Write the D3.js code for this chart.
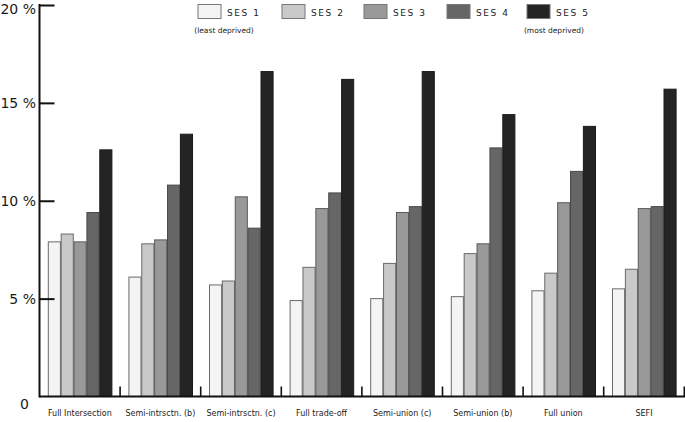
<!DOCTYPE html>
<html>
<head>
<meta charset="utf-8">
<script src="https://cdn.jsdelivr.net/npm/d3@7"></script>
<style>
  html, body { margin: 0; padding: 0; background: #fff; }
  svg { display: block; }
</style>
</head>
<body>
<svg id="chart" width="685" height="422"></svg>
<script>
const categories = ["Full Intersection", "Semi-intrsctn. (b)", "Semi-intrsctn. (c)", "Full trade-off",
  "Semi-union (c)", "Semi-union (b)", "Full union", "SEFI"];
const seriesNames = ["SES 1", "SES 2", "SES 3", "SES 4", "SES 5"];
const ses1 = [7.9, 6.1, 5.7, 4.9, 5.0, 5.1, 5.4, 5.5];
const ses2 = [8.3, 7.8, 5.9, 6.6, 6.8, 7.3, 6.3, 6.5];
const ses3 = [7.9, 8.0, 10.2, 9.6, 9.4, 7.8, 9.9, 9.6];
const ses4 = [9.4, 10.8, 8.6, 10.4, 9.7, 12.7, 11.5, 9.7];
const ses5 = [12.6, 13.4, 16.6, 16.2, 16.6, 14.4, 13.8, 15.7];
const yTicks = [5, 10, 15, 20];
const yTickLabels = ["5 %", "10 %", "15 %", "20 %"];
const legendNotes = ["(least deprived)", "(most deprived)"];

const series = [ses1, ses2, ses3, ses4, ses5];
const fills = ["#f4f4f4", "#c9c9c9", "#999999", "#666666", "#242424"];
const strokes = ["#6a6a6a", "#6a6a6a", "#5a5a5a", "#4a4a4a", "#1a1a1a"];

const svg = d3.select("#chart");
const x0 = d3.scaleBand().domain(categories).range([39.5, 684.3]).padding(0);
const x1 = d3.scaleBand().domain(d3.range(5)).range([8.8, 72.4]).paddingInner(0.06);
const y = d3.scaleLinear().domain([0, 20]).range([396.5, 5]);

// bars
const groups = svg.append("g").selectAll("g").data(categories).join("g")
  .attr("transform", d => `translate(${x0(d)},0)`);
groups.selectAll("rect").data((d, i) => series.map((s, k) => ({k, v: s[i]})))
  .join("rect")
  .attr("x", d => x1(d.k))
  .attr("width", x1.bandwidth())
  .attr("y", d => y(d.v))
  .attr("height", d => y(0) - y(d.v))
  .attr("fill", d => fills[d.k])
  .attr("stroke", d => strokes[d.k])
  .attr("stroke-width", 1);

// y axis
const yAxis = d3.axisRight(y).tickValues(yTicks).tickSize(15).tickFormat("");
const ya = svg.append("g").attr("transform", "translate(39.5,0)").call(yAxis);
ya.select(".domain").remove();
ya.selectAll(".tick line").attr("stroke", "#111").attr("stroke-width", 2);
svg.append("line").attr("x1", 39.5).attr("x2", 39.5).attr("y1", y(20) - 1).attr("y2", y(0) + 1)
  .attr("stroke", "#111").attr("stroke-width", 2);

// y labels
const labOffsets = {20: 4, 15: 0, 10: 0, 5: 0};
svg.append("g").selectAll("text").data(yTicks).join("text")
  .attr("x", 36)
  .attr("y", d => y(d) + labOffsets[d])
  .attr("dy", "0.35em")
  .attr("text-anchor", "end")
  .attr("font-family", "DejaVu Sans, Verdana, sans-serif")
  .attr("font-size", 14)
  .attr("fill", "#1a1a1a")
  .text((d, i) => yTickLabels[i]);
svg.append("text").attr("x", 24.5).attr("y", y(0) + 7.5).attr("dy", "0.35em")
  .attr("text-anchor", "middle")
  .attr("font-family", "DejaVu Sans, Verdana, sans-serif").attr("font-size", 14)
  .attr("fill", "#1a1a1a").text("0");

// x axis baseline
svg.append("line").attr("x1", 39.5).attr("x2", 685).attr("y1", y(0)).attr("y2", y(0))
  .attr("stroke", "#111").attr("stroke-width", 2);
// category separators
svg.append("g").selectAll("line").data(categories.slice(1).concat(["end"])).join("line")
  .attr("x1", (d, i) => x0.range()[0] + x0.bandwidth() * (i + 1))
  .attr("x2", (d, i) => x0.range()[0] + x0.bandwidth() * (i + 1))
  .attr("y1", y(0) - 10).attr("y2", y(0))
  .attr("stroke", "#111").attr("stroke-width", 1.6);

// category labels
svg.append("g").selectAll("text").data(categories).join("text")
  .attr("x", d => x0(d) + x0.bandwidth() / 2)
  .attr("y", 413)
  .attr("dy", "0.35em")
  .attr("text-anchor", "middle")
  .attr("font-family", "DejaVu Sans, Verdana, sans-serif")
  .attr("font-size", 8)
  .attr("fill", "#222")
  .text(d => d);

// legend
const legX = [198, 282, 364, 447, 527];
const leg = svg.append("g").selectAll("g").data(seriesNames).join("g")
  .attr("transform", (d, i) => `translate(${legX[i]},4.5)`);
leg.append("rect").attr("width", 23).attr("height", 14)
  .attr("fill", (d, i) => fills[i]).attr("stroke", "#777").attr("stroke-width", 1);
leg.append("text").attr("x", 29).attr("y", 8).attr("dy", "0.35em")
  .attr("font-family", "DejaVu Sans, Verdana, sans-serif").attr("font-size", 9)
  .attr("letter-spacing", 1.6).attr("fill", "#222").text(d => d);

svg.append("text").attr("x", 224).attr("y", 30).attr("dy", "0.35em").attr("text-anchor", "middle")
  .attr("font-family", "DejaVu Sans, Verdana, sans-serif").attr("font-size", 7.5)
  .attr("fill", "#222").text(legendNotes[0]);
svg.append("text").attr("x", 554).attr("y", 30).attr("dy", "0.35em").attr("text-anchor", "middle")
  .attr("font-family", "DejaVu Sans, Verdana, sans-serif").attr("font-size", 7.5)
  .attr("fill", "#222").text(legendNotes[1]);
</script>
</body>
</html>
